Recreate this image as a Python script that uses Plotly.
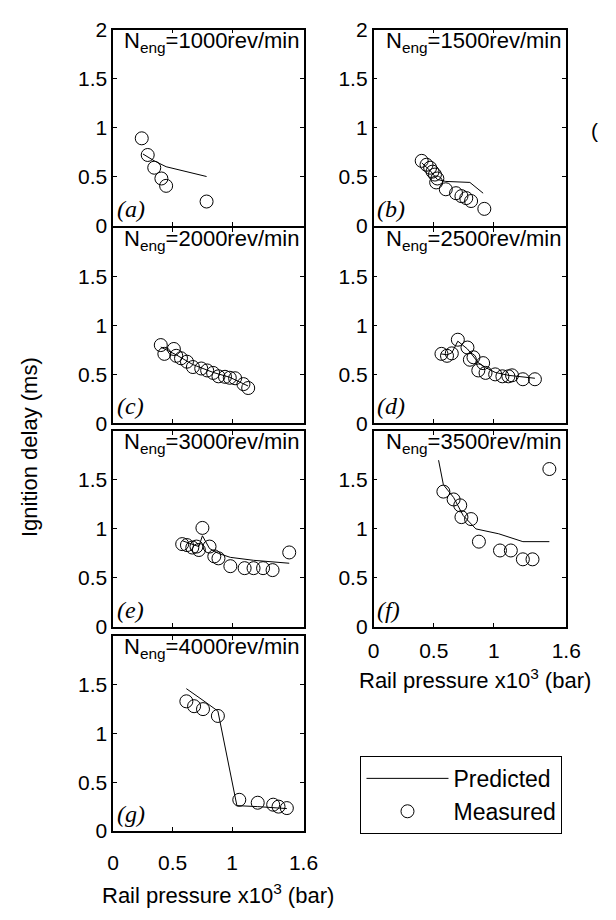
import plotly.graph_objects as go

# ---- ignition delay data: rail pressure (x10^3 bar) vs ignition delay (ms) ----
speeds = [1000, 1500, 2000, 2500, 3000, 3500, 4000]
panel_tags = ["a", "b", "c", "d", "e", "f", "g"]

meas_p_1000 = [0.24, 0.29, 0.345, 0.405, 0.445, 0.785]
meas_d_1000 = [0.89, 0.72, 0.59, 0.48, 0.405, 0.245]
pred_p_1000 = [0.25, 0.345, 0.445, 0.785]
pred_d_1000 = [0.73, 0.66, 0.60, 0.50]

meas_p_1500 = [0.40, 0.44, 0.47, 0.49, 0.51, 0.53, 0.52, 0.60, 0.685, 0.73, 0.77, 0.81, 0.92]
meas_d_1500 = [0.66, 0.62, 0.59, 0.55, 0.52, 0.48, 0.44, 0.37, 0.33, 0.30, 0.28, 0.25, 0.17]
pred_p_1500 = [0.40, 0.47, 0.53, 0.60, 0.80, 0.91]
pred_d_1500 = [0.64, 0.56, 0.47, 0.45, 0.44, 0.33]

meas_p_2000 = [0.40, 0.43, 0.51, 0.53, 0.57, 0.62, 0.67, 0.74, 0.79, 0.84, 0.885, 0.94, 0.98, 1.025, 1.095, 1.135]
meas_d_2000 = [0.80, 0.71, 0.76, 0.69, 0.665, 0.63, 0.575, 0.56, 0.54, 0.515, 0.48, 0.475, 0.465, 0.46, 0.40, 0.36]
pred_p_2000 = [0.40, 0.53, 0.67, 0.84, 0.98, 1.135]
pred_d_2000 = [0.78, 0.70, 0.60, 0.52, 0.47, 0.38]

meas_p_2500 = [0.564, 0.61, 0.65, 0.70, 0.78, 0.80, 0.83, 0.87, 0.91, 0.93, 1.01, 1.07, 1.12, 1.15, 1.24, 1.34]
meas_d_2500 = [0.71, 0.69, 0.715, 0.855, 0.775, 0.65, 0.675, 0.54, 0.615, 0.515, 0.50, 0.48, 0.48, 0.49, 0.45, 0.45]
pred_p_2500 = [0.56, 0.61, 0.65, 0.70, 0.78, 0.83, 0.87, 0.93, 1.01, 1.12, 1.24, 1.34]
pred_d_2500 = [0.71, 0.70, 0.72, 0.84, 0.76, 0.68, 0.62, 0.57, 0.52, 0.49, 0.47, 0.46]

meas_p_3000 = [0.58, 0.62, 0.665, 0.70, 0.72, 0.75, 0.81, 0.85, 0.885, 0.985, 1.105, 1.18, 1.26, 1.34, 1.48]
meas_d_3000 = [0.845, 0.835, 0.81, 0.82, 0.785, 1.01, 0.82, 0.72, 0.70, 0.62, 0.60, 0.60, 0.60, 0.58, 0.76]
pred_p_3000 = [0.58, 0.665, 0.72, 0.75, 0.81, 0.885, 0.985, 1.18, 1.34, 1.48]
pred_d_3000 = [0.88, 0.84, 0.82, 0.93, 0.80, 0.75, 0.71, 0.68, 0.66, 0.65]

meas_p_3500 = [0.58, 0.665, 0.72, 0.73, 0.81, 0.875, 1.05, 1.14, 1.24, 1.32, 1.46]
meas_d_3500 = [1.38, 1.30, 1.24, 1.12, 1.10, 0.87, 0.78, 0.78, 0.69, 0.69, 1.61]
pred_p_3500 = [0.54, 0.58, 0.665, 0.745, 0.85, 1.04, 1.24, 1.46]
pred_d_3500 = [1.70, 1.45, 1.32, 1.135, 1.00, 0.95, 0.87, 0.87]

meas_p_4000 = [0.615, 0.68, 0.755, 0.88, 1.06, 1.215, 1.345, 1.39, 1.46]
meas_d_4000 = [1.33, 1.28, 1.25, 1.18, 0.32, 0.29, 0.27, 0.25, 0.235]
pred_p_4000 = [0.615, 0.68, 0.755, 0.88, 1.04, 1.215, 1.345, 1.46]
pred_d_4000 = [1.46, 1.40, 1.34, 1.23, 0.26, 0.25, 0.24, 0.23]

measured_p = [meas_p_1000, meas_p_1500, meas_p_2000, meas_p_2500, meas_p_3000, meas_p_3500, meas_p_4000]
measured_d = [meas_d_1000, meas_d_1500, meas_d_2000, meas_d_2500, meas_d_3000, meas_d_3500, meas_d_4000]
predicted_p = [pred_p_1000, pred_p_1500, pred_p_2000, pred_p_2500, pred_p_3000, pred_p_3500, pred_p_4000]
predicted_d = [pred_d_1000, pred_d_1500, pred_d_2000, pred_d_2500, pred_d_3000, pred_d_3500, pred_d_4000]

x_tickvals = [0, 0.5, 1, 1.6]
x_ticktext = ["0", "0.5", "1", "1.6"]
y_tickvals_top = [0, 0.5, 1, 1.5, 2]
y_tickvals_lower = [0, 0.5, 1, 1.5]

# ---- layout geometry (pixels on a 616 x 920 page) ----
W, H = 616, 920
col_px = [(111, 308), (380.5, 580)]
row_px = [(18, 219), (221.5, 421.7), (429.5, 630.8), (640, 840)]
grid = [(0, 0), (0, 1), (1, 0), (1, 1), (2, 0), (2, 1), (3, 0)]  # (row, col) per panel

SANS = "Arial, Liberation Sans, sans-serif"
SERIF = "Times New Roman, Liberation Serif, serif"

fig = go.Figure()
layout = dict(
    width=W, height=H,
    margin=dict(l=0, r=0, t=0, b=0),
    paper_bgcolor="white", plot_bgcolor="white",
    font=dict(family=SANS, size=21, color="black"),
    showlegend=True,
    legend=dict(
        x=367 / W, y=1 - 763 / H, xanchor="left", yanchor="top",
        bgcolor="white", bordercolor="black", borderwidth=1,
        font=dict(family=SANS, size=23, color="black"),
        itemwidth=82, tracegroupgap=0,
    ),
)

annotations = []
for i, (speed, tag) in enumerate(zip(speeds, panel_tags)):
    r, c = grid[i]
    n = "" if i == 0 else str(i + 1)
    xa, ya = "x" + n, "y" + n
    fig.add_trace(go.Scatter(
        x=predicted_p[i], y=predicted_d[i], mode="lines",
        line=dict(color="black", width=1), name="Predicted",
        xaxis=xa, yaxis=ya, showlegend=(i == 0),
    ))
    fig.add_trace(go.Scatter(
        x=measured_p[i], y=measured_d[i], mode="markers",
        marker=dict(symbol="circle-open", size=13, color="black", line=dict(width=1)),
        name="Measured", xaxis=xa, yaxis=ya, showlegend=(i == 0),
    ))
    l, rr = col_px[c]
    t, b = row_px[r]
    show_x = tag in ("f", "g")
    yt = y_tickvals_top if r == 0 else y_tickvals_lower
    layout["xaxis" + n] = dict(
        domain=[l / W, rr / W], range=[0, 1.6], anchor=ya,
        tickvals=x_tickvals, ticktext=x_ticktext, showticklabels=show_x,
        ticks="inside", ticklen=4, tickcolor="black",
        ticklabelstandoff=12 if tag == "g" else 4,
        showline=True, linecolor="black", linewidth=1.5, mirror="ticks",
        showgrid=False, zeroline=False, tickfont=dict(size=21),
    )
    layout["yaxis" + n] = dict(
        domain=[1 - b / H, 1 - t / H], range=[0, 2], anchor=xa,
        tickvals=yt, ticktext=[f"{v:g}" for v in yt],
        ticks="inside", ticklen=4, tickcolor="black",
        showline=True, linecolor="black", linewidth=1.5, mirror="ticks",
        showgrid=False, zeroline=False, tickfont=dict(size=21),
    )
    annotations.append(dict(
        text=f"N<sub>eng</sub>={speed}rev/min", xref=xa + " domain", yref=ya + " domain",
        x=0.52, y=1, xanchor="center", yanchor="top", yshift=4, showarrow=False,
        font=dict(family=SANS, size=22),
    ))
    annotations.append(dict(
        text=f"<i>({tag})</i>", xref=xa + " domain", yref=ya + " domain",
        x=0.01, y=0, xanchor="left", yanchor="bottom", yshift=2, showarrow=False,
        font=dict(family=SERIF, size=24),
    ))

# axis titles
annotations.append(dict(
    text="Ignition delay (ms)", xref="paper", yref="paper",
    x=25 / W, y=1 - 446 / H, textangle=-90, showarrow=False,
    xanchor="center", yanchor="middle", font=dict(family=SANS, size=22),
))
annotations.append(dict(
    text="Rail pressure x10<sup>3</sup> (bar)", xref="paper", yref="paper",
    x=486 / W, y=1 - 684 / H, showarrow=False,
    xanchor="center", yanchor="middle", font=dict(family=SANS, size=22),
))
annotations.append(dict(
    text="Rail pressure x10<sup>3</sup> (bar)", xref="paper", yref="paper",
    x=219 / W, y=1 - 905 / H, showarrow=False,
    xanchor="center", yanchor="middle", font=dict(family=SANS, size=22),
))
annotations.append(dict(
    text="(", xref="paper", yref="paper", x=1, y=1 - 122 / H,
    xanchor="left", xshift=-12, yanchor="middle", showarrow=False,
    font=dict(family=SANS, size=21),
))

layout["annotations"] = annotations
fig.update_layout(**layout)
fig.write_html("out.html")
